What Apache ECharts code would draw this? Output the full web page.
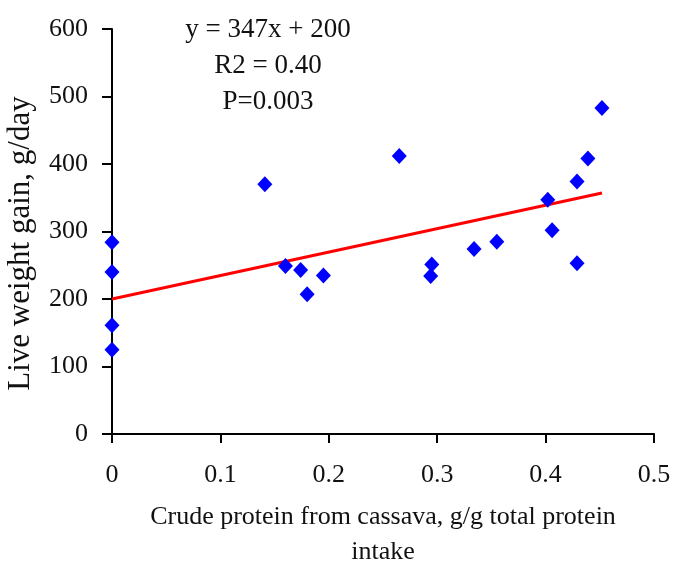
<!DOCTYPE html>
<html>
<head>
<meta charset="utf-8">
<script src="https://cdn.jsdelivr.net/npm/echarts@6/dist/echarts.min.js"></script>
<style>
  html, body { margin: 0; padding: 0; background: #fff; }
  #chart { width: 675px; height: 566px; }
</style>
</head>
<body>
<div id="chart"></div>
<script>
  // 读图得到的数据点
  var cassavaShare = [0, 0, 0, 0, 0.141, 0.160, 0.174, 0.180, 0.195, 0.265,
    0.294, 0.295, 0.334, 0.355, 0.402, 0.406, 0.429, 0.429, 0.439, 0.452]
  var weightGain = [284, 240, 161, 125, 370, 249, 243, 207, 235, 412,
    234, 251, 274, 285, 347, 302, 374, 253, 408, 483]
  // 回归线两端
  var trendX = [0, 0.452]
  var trendY = [200, 357]
  var xTicks = [0, 0.1, 0.2, 0.3, 0.4, 0.5]
  var yTicks = [0, 100, 200, 300, 400, 500, 600]
  var statLines = ['y = 347x + 200', 'R2 = 0.40', 'P=0.003']

  var font = '"Liberation Serif", "DejaVu Serif", serif'
  var ink = '#111'

  var points = cassavaShare.map(function (x, i) { return [x, weightGain[i]] })
  var trend = trendX.map(function (x, i) { return [x, trendY[i]] })

  var chart = echarts.init(document.getElementById('chart'))
  chart.setOption({
    backgroundColor: '#fff',
    animation: false,
    grid: { left: 112, right: 21, top: 29, bottom: 132, containLabel: false, outerBoundsMode: 'none' },
    xAxis: {
      type: 'value',
      min: xTicks[0],
      max: xTicks[xTicks.length - 1],
      interval: 0.1,
      name: 'Crude protein from cassava, g/g total protein\nintake',
      nameLocation: 'middle',
      nameGap: 66,
      nameTextStyle: { fontFamily: font, fontSize: 26, color: ink, lineHeight: 35 },
      axisLine: { onZero: false, lineStyle: { color: '#000', width: 2 } },
      axisTick: { show: true, inside: false, length: 9, lineStyle: { color: '#000', width: 2 } },
      axisLabel: {
        margin: 28, fontFamily: font, fontSize: 26, color: ink,
        formatter: function (v) { return String(Math.round(v * 10) / 10) }
      },
      splitLine: { show: false }
    },
    yAxis: {
      type: 'value',
      min: yTicks[0],
      max: yTicks[yTicks.length - 1],
      interval: 100,
      name: 'Live weight gain, g/day',
      nameLocation: 'middle',
      nameRotate: 90,
      nameGap: 76,
      // 名称略往下移
      nameTextStyle: { fontFamily: font, fontSize: 31, color: ink, padding: [0, 24, 0, 0] },
      axisLine: { show: true, lineStyle: { color: '#000', width: 2 } },
      axisTick: { show: true, inside: false, length: 10, lineStyle: { color: '#000', width: 2 } },
      axisLabel: { margin: 24, fontFamily: font, fontSize: 26, color: ink },
      splitLine: { show: false }
    },
    graphic: [
      {
        type: 'text',
        x: 268,
        y: 12,
        style: {
          text: statLines.join('\n'),
          font: '27px ' + font,
          fill: ink,
          align: 'center',
          verticalAlign: 'top',
          lineHeight: 36
        }
      }
    ],
    series: [
      {
        name: 'trend',
        type: 'line',
        data: trend,
        symbol: 'none',
        lineStyle: { color: '#ff0000', width: 3 },
        z: 2
      },
      {
        name: 'gain',
        type: 'scatter',
        data: points,
        symbol: 'diamond',
        symbolSize: [15, 16],
        itemStyle: { color: '#0000ff', opacity: 1 },
        z: 3
      }
    ]
  })
</script>
</body>
</html>
